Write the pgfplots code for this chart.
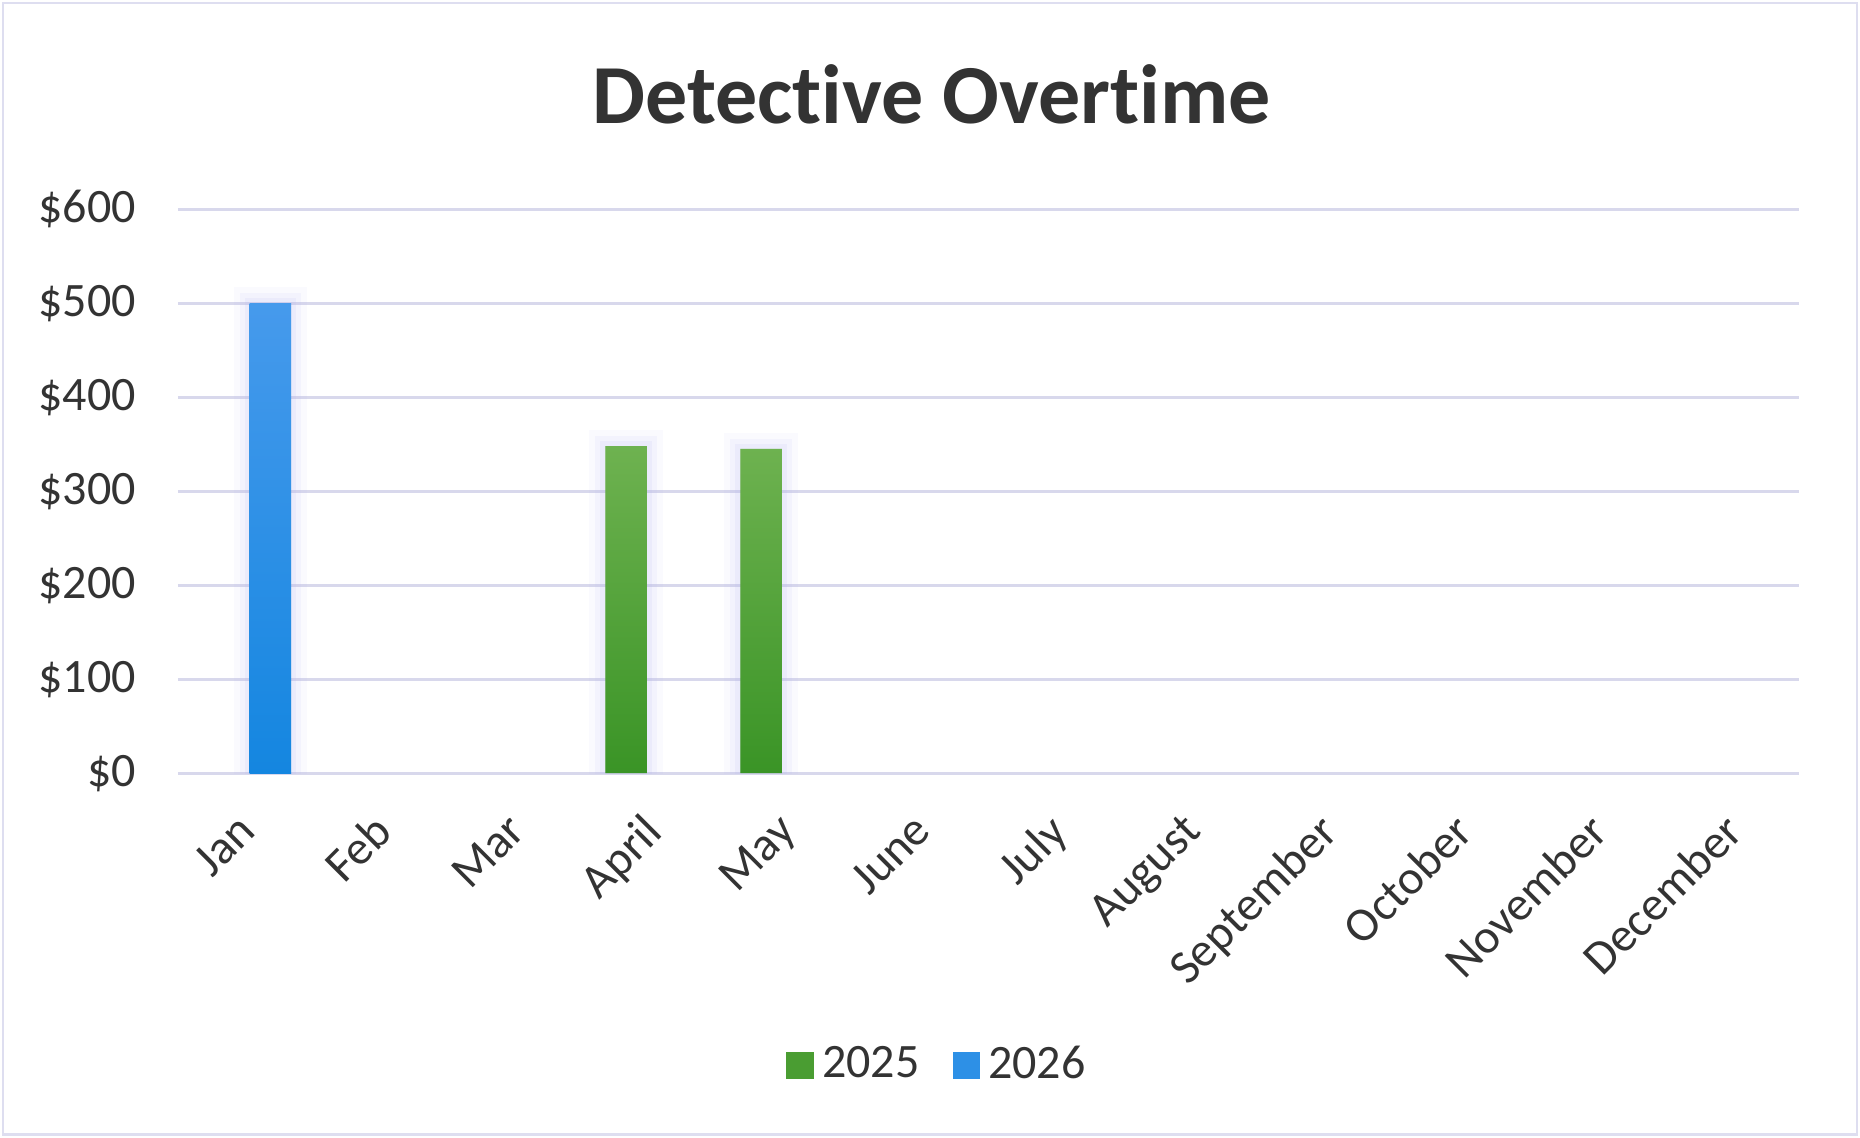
\documentclass[border=0pt]{standalone}
\usepackage{pgfplots}
\pgfplotsset{compat=1.18}
\usepackage{fontspec}
\setmainfont{Carlito}[Ligatures=NoCommon]
\definecolor{gridc}{RGB}{216,216,236}
\definecolor{framec}{RGB}{222,222,240}
\definecolor{txt}{RGB}{51,51,51}
\definecolor{gtop}{RGB}{110,178,80}
\definecolor{gbot}{RGB}{58,148,38}
\definecolor{btop}{RGB}{70,154,236}
\definecolor{bbot}{RGB}{20,134,224}
\definecolor{glow}{RGB}{185,185,240}
\begin{document}
\begin{tikzpicture}
\path[use as bounding box] (-44.5pt,-90.95pt) rectangle (420.5pt,193.3pt);
\draw[framec, line width=0.6pt] (-43.7pt,-90.3pt) rectangle (419.7pt,192.5pt);
\begin{axis}[
  scale only axis, width=405.3pt, height=141pt,
  xmin=-0.5, xmax=11.5, ymin=0, ymax=600,
  ytick={0,100,200,300,400,500,600},
  yticklabels={\$0,\$100,\$200,\$300,\$400,\$500,\$600},
  xtick={0,1,2,3,4,5,6,7,8,9,10,11},
  xticklabels={Jan,Feb,Mar,April,May,June,July,August,September,October,November,December},
  ymajorgrids, grid style={gridc, line width=0.8pt},
  axis line style={draw=none},
  major tick length=0pt,
  tick label style={font=\fontsize{12}{14}\selectfont, text=txt},
  yticklabel style={xshift=-7pt},
  xticklabel style={xshift=-2.5pt, yshift=-9.3pt, rotate=45, anchor=north east, inner sep=0pt},
  title={Detective Overtime},
  title style={at={(0.465,1.162)}, anchor=center, font=\fontsize{21}{25}\selectfont\bfseries, text=txt},
  legend style={at={(0.47,-0.518)}, anchor=center, draw=none, legend columns=2,
    font=\fontsize{12}{14}\selectfont, text=txt,
    /tikz/every even column/.append style={column sep=6.3pt}},
]
\addlegendimage{legend image code/.code={\fill[gbot!70!gtop] (0pt,-3.25pt) rectangle (6.5pt,3.25pt);}}
\addlegendentry{2025}
\addlegendimage{legend image code/.code={\fill[bbot!50!btop] (0pt,-3.25pt) rectangle (6.5pt,3.25pt);}}
\addlegendentry{2026}
\addplot[ybar, bar width=10.4pt, bar shift=-6.2pt, draw=none, top color=gtop, bottom color=gbot,
  preaction={draw=glow, line width=8pt, opacity=0.07},
  preaction={draw=glow, line width=5pt, opacity=0.1},
  preaction={draw=glow, line width=2.5pt, opacity=0.15}, forget plot]
  coordinates {(3,348) (4,345)};
\addplot[ybar, bar width=10.4pt, bar shift=6.2pt, draw=none, top color=btop, bottom color=bbot,
  preaction={draw=glow, line width=8pt, opacity=0.07},
  preaction={draw=glow, line width=5pt, opacity=0.1},
  preaction={draw=glow, line width=2.5pt, opacity=0.15}, forget plot]
  coordinates {(0,500)};
\end{axis}
\end{tikzpicture}
\end{document}
